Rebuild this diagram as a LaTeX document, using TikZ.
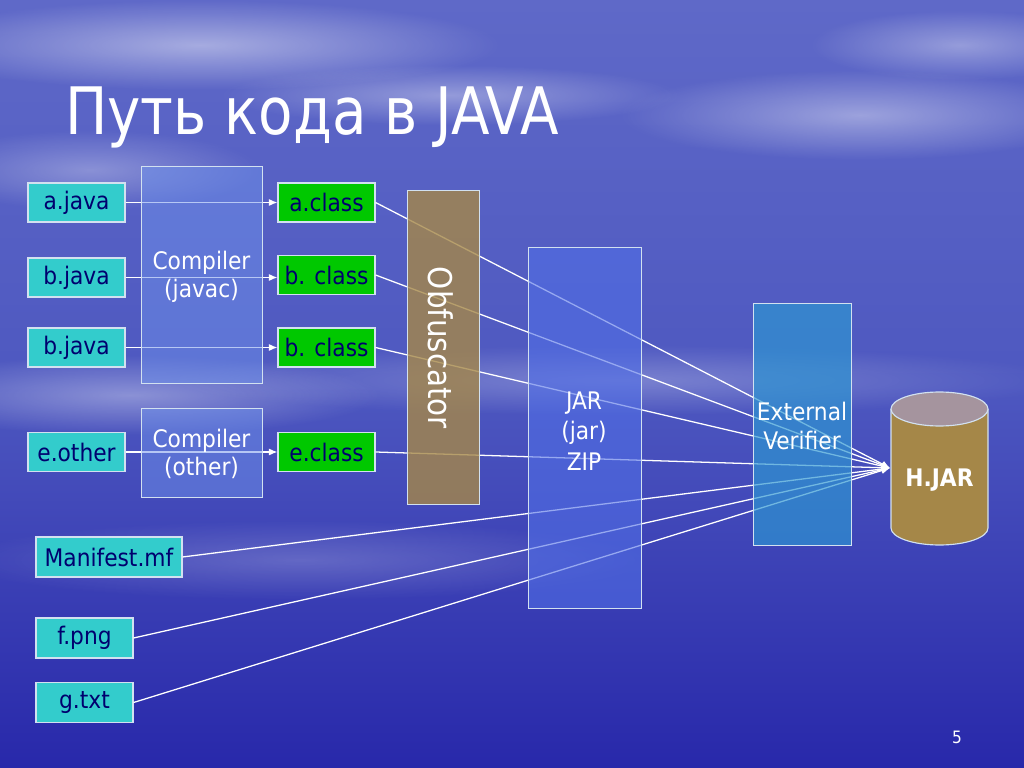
\documentclass[tikz,border=0pt]{standalone}
\usepackage{fontspec}
\setmainfont{DejaVu Sans Condensed}
\usetikzlibrary{arrows.meta,shapes.geometric,fadings}
\tikzfading[name=softcloud, inner color=transparent!0, outer color=transparent!100]
\def\px{0.703125pt}
\definecolor{bgtop}{RGB}{95,105,200}
\definecolor{bgmid}{RGB}{78,88,192}
\definecolor{bgbot}{RGB}{40,40,170}
\definecolor{cyanbox}{RGB}{51,204,204}
\definecolor{greenbox}{RGB}{0,200,0}
\definecolor{navytext}{RGB}{0,0,110}
\definecolor{compfill}{RGB}{110,145,235}
\definecolor{obffill}{RGB}{165,135,72}
\definecolor{jarfill}{RGB}{80,110,230}
\definecolor{verfill}{RGB}{45,150,210}
\definecolor{cyltop}{RGB}{165,148,158}
\definecolor{edge}{RGB}{210,225,240}
\tikzset{
  filebox/.style={draw=edge, line width=0.8pt, fill=cyanbox, text=navytext, inner sep=0pt,
    font=\fontsize{17}{20}\selectfont, minimum height=39*\px},
  classbox/.style={draw=edge, line width=0.8pt, fill=greenbox, text=navytext, inner sep=0pt,
    font=\fontsize{17}{20}\selectfont, minimum width=97*\px, minimum height=39*\px},
  tool/.style={draw=edge, line width=0.6pt, inner sep=0pt, text=white,
    font=\fontsize{17}{20}\selectfont, align=center},
  conn/.style={draw=white, line width=0.9pt},
  arr/.style={conn, -{Latex[length=6pt,width=5pt]}},
  cloud/.style={fill=white, path fading=softcloud, fill opacity=#1}
}
\begin{document}
\begin{tikzpicture}[x=\px, y=-\px]
\useasboundingbox (0,0) rectangle (1024,768);
% background
\shade[top color=bgtop, bottom color=bgbot, middle color=bgmid] (0,0) rectangle (1024,768);
\fill[cloud=0.45] (200,45) ellipse (300 and 45);
\fill[cloud=0.35] (450,95) ellipse (230 and 30);
\fill[cloud=0.40] (860,115) ellipse (240 and 45);
\fill[cloud=0.35] (960,45) ellipse (150 and 35);
\fill[cloud=0.30] (90,170) ellipse (170 and 40);
\fill[cloud=0.35] (130,395) ellipse (250 and 40);
\fill[cloud=0.25] (620,380) ellipse (450 and 35);
\fill[cloud=0.20] (300,560) ellipse (350 and 40);

% title
\node[anchor=base west, inner sep=0pt, text=white, font=\fontsize{40}{48}\selectfont, xscale=1.1, yscale=1.15] (title) at (65,135) {Путь кода в JAVA};

% source files
\node[filebox, minimum width=97*\px] (ajava) at (76.5,202.5) {a.java};
\node[filebox, minimum width=97*\px] (bjava1) at (76.5,277.5) {b.java};
\node[filebox, minimum width=97*\px] (bjava2) at (76.5,347.5) {b.java};
\node[filebox, minimum width=97*\px] (eother) at (76.5,452) {e.other};
\node[filebox, minimum width=146*\px, minimum height=40*\px] (manifest) at (109,557) {Manifest.mf};
\node[filebox, minimum width=97*\px, minimum height=40*\px] (fpng) at (84.5,638) {f.png};
\node[filebox, minimum width=97*\px, minimum height=40*\px] (gtxt) at (84.5,702.5) {g.txt};

% class files
\node[classbox] (aclass) at (326.5,202.5) {a.class};
\node[classbox] (bclass1) at (326.5,275) {b. class};
\node[classbox] (bclass2) at (326.5,347.5) {b. class};
\node[classbox] (eclass) at (326.5,452) {e.class};

\coordinate (tip) at (890,468);

% connectors (drawn below the translucent tool boxes)
\draw[arr] (ajava.east) -- (aclass.west);
\draw[arr] (bjava1.east) -- (bclass1.west |- bjava1.east);
\draw[arr] (bjava2.east) -- (bclass2.west);
\draw[arr] (eother.east) -- (eclass.west);
\draw[arr] (aclass.east) -- (tip);
\draw[arr] (bclass1.east) -- (tip);
\draw[arr] (bclass2.east) -- (tip);
\draw[arr] (eclass.east) -- (tip);
\draw[arr] (manifest.east) -- (tip);
\draw[arr] (fpng.east) -- (tip);
\draw[arr] (gtxt.east) -- (tip);

% tool boxes
\node[tool, fill=compfill, fill opacity=0.5, minimum width=121*\px, minimum height=217*\px] (javac) at (201.5,274.5) {};
\node[tool, fill=compfill, fill opacity=0.5, minimum width=121*\px, minimum height=89*\px] (compother) at (201.5,452.5) {};
\node[tool, fill=obffill, fill opacity=0.8, minimum width=72*\px, minimum height=314*\px] (obf) at (443,347) {};
\node[tool, fill=jarfill, fill opacity=0.6, minimum width=113*\px, minimum height=361*\px] (jar) at (584.5,427.5) {};
\node[tool, fill=verfill, fill opacity=0.68, minimum width=98*\px, minimum height=242*\px] (ver) at (802,424) {};

% texts of tool boxes
\node[tool, draw=none, fill=none] (javactext) at (201.5,277) {Compiler\\(javac)};
\node[tool, draw=none, fill=none] (compothertext) at (201.5,454) {Compiler\\(other)};
\node[tool, draw=none, fill=none, rotate=-90, font=\fontsize{23}{26}\selectfont] (obftext) at (441,348) {Obfuscator};
\node[tool, draw=none, fill=none, font=\fontsize{17}{21.5}\selectfont] (jartext) at (584,431) {JAR\\(jar)\\ZIP};
\node[tool, draw=none, fill=none, font=\fontsize{17}{20.5}\selectfont] (vertext) at (802,426) {External\\Verifier};

% H.JAR cylinder
\fill[obffill] (891,409) -- (891,528) arc (180:0:48.5 and 17) -- (988,409) -- cycle;
\draw[edge, line width=0.8pt] (891,409) -- (891,528) arc (180:0:48.5 and 17) -- (988,409);
\filldraw[fill=cyltop, draw=edge, line width=0.8pt] (939.5,409) ellipse (48.5 and 17);
\node[text=white, font=\fontsize{17}{20}\bfseries\selectfont] (hjar) at (939.5,480) {H.JAR};

% slide number
\node[text=white, font=\fontsize{12}{14}\selectfont] (pagenum) at (957,737) {5};
\end{tikzpicture}
\end{document}
